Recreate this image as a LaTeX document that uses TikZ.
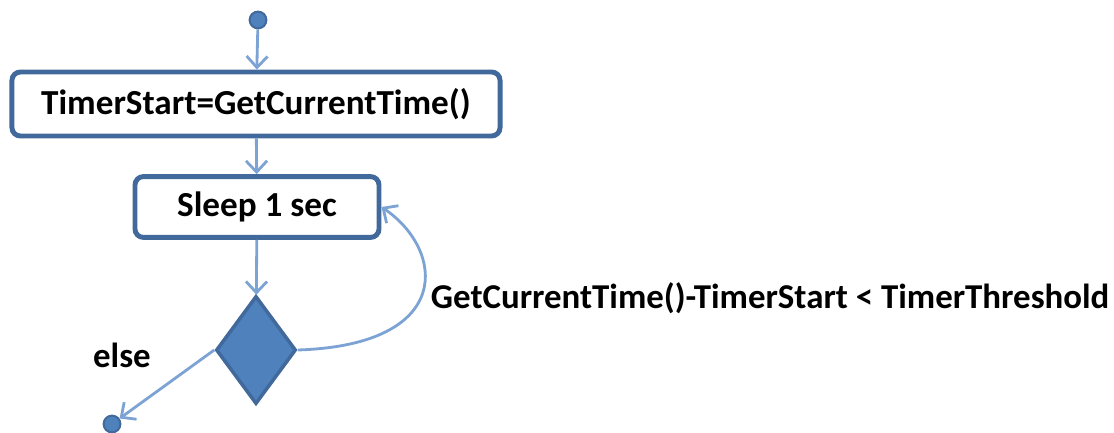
\documentclass[tikz,border=0pt]{standalone}
\usepackage{fontspec}
\setmainfont{Carlito}
\usepackage{tikz}
\usetikzlibrary{arrows,arrows.meta,shapes,shapes.geometric}

\definecolor{boxline}{HTML}{41699C}
\definecolor{flowblue}{HTML}{7DA3D5}
\definecolor{decfill}{HTML}{4F81BD}

\begin{document}
\begin{tikzpicture}[x=0.025cm,y=-0.025cm,
	action/.style={draw=boxline,line width=3.5pt,rounded corners=6pt,fill=white,font=\fontsize{25}{29}\selectfont\bfseries},
	dot/.style={circle,draw=boxline,line width=1.4pt,fill=decfill,minimum size=0.42cm,inner sep=0pt},
	choice/.style={diamond,draw=boxline,line width=2.5pt,fill=decfill,minimum width=2.0cm,minimum height=2.7cm,inner sep=0pt},
	lbl/.style={font=\fontsize{24.8}{29}\selectfont\bfseries},
	flow/.style={->,flowblue,line width=2pt,>={Straight Barb[length=8pt,width=15pt]}}]
		\useasboundingbox (0,0) rectangle (1114,433);
		\node[dot] (start) at (258,20) {};
		\node[action,minimum width=12.2cm,minimum height=1.6cm] (init) at (256,104) {TimerStart=GetCurrentTime()};
		\node[action,minimum width=6.1cm,minimum height=1.52cm] (sleep) at (257,207) {Sleep 1 sec};
		\node[choice] (check) at (256,350) {};
		\node[dot] (stop) at (112,424) {};
		%
		\path[flow]
		(start) edge (init)
		(init) edge (sleep)
		(sleep) edge (check)
		(check.west) edge (stop);
		\draw[flow] (check.east) .. controls (455,345) and (445,250) .. (sleep.east);
		%
		\node[lbl,anchor=west] (cond) at (426,298) {GetCurrentTime()-TimerStart < TimerThreshold};
		\node[lbl] (otherwise) at (122,355) {else};
\end{tikzpicture}
\end{document}
